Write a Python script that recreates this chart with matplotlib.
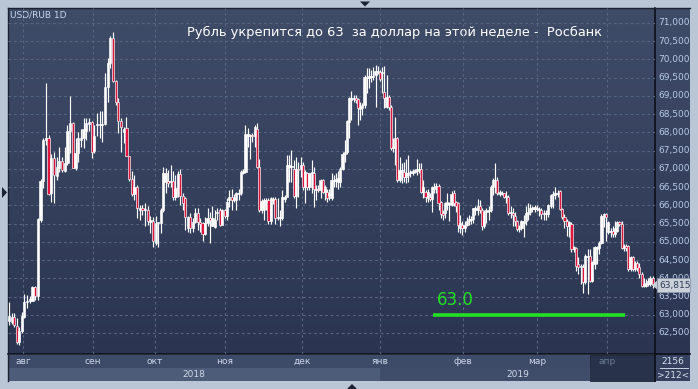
import numpy as np
import matplotlib.pyplot as plt
from matplotlib.patches import Rectangle, Polygon
from matplotlib.colors import LinearSegmentedColormap

# USD/RUB daily candles
opens = [62.83, 62.81, 62.95, 62.69, 62.26, 62.55, 62.95, 63.34, 63.39, 63.39,
         63.75, 63.51, 65.59, 66.68, 67.79, 67.84, 66.33, 67.29, 66.81, 67.03,
         67.22, 66.95, 67.15, 68.04, 68.25, 67.02, 67.43, 67.79, 67.84, 68.04,
         68.22, 68.28, 67.50, 68.20, 68.20, 68.20, 68.22, 69.25, 69.89, 70.58,
         69.41, 68.84, 68.32, 68.02, 68.11, 67.34, 66.71, 66.31, 66.51, 65.87,
         65.92, 65.86, 65.86, 65.55, 65.58, 64.98, 65.51, 65.51, 65.86, 66.65,
         66.68, 66.65, 66.68, 66.24, 66.47, 66.86, 66.26, 66.19, 65.37, 65.67,
         65.37, 65.55, 65.80, 65.55, 65.51, 65.22, 65.51, 65.65, 65.42, 65.40,
         65.78, 65.86, 65.47, 65.88, 65.70, 66.14, 66.23, 66.15, 66.15, 66.31,
         66.33, 66.90, 66.92, 67.90, 67.89, 67.93, 67.90, 68.10, 67.06, 65.87,
         65.88, 66.10, 66.14, 65.57, 66.15, 66.17, 65.64, 65.64, 65.66, 66.17,
         66.22, 67.05, 67.04, 67.01, 66.26, 67.01, 67.01, 67.10, 66.49, 66.88,
         66.51, 66.88, 66.90, 66.42, 66.46, 66.42, 66.69, 66.37, 66.37, 66.28,
         66.19, 66.67, 66.67, 66.65, 66.65, 67.01, 67.42, 67.45, 68.29, 68.89,
         68.92, 68.95, 68.91, 68.64, 68.66, 68.75, 69.48, 69.50, 69.53, 69.53,
         69.57, 69.66, 69.65, 69.62, 69.10, 68.70, 68.98, 68.70, 67.56, 67.56,
         67.84, 66.69, 66.92, 66.92, 66.78, 66.83, 66.88, 66.90, 66.92, 66.94,
         66.97, 67.00, 66.37, 66.37, 66.21, 66.24, 66.17, 66.46, 66.50, 66.53,
         66.08, 65.79, 65.78, 66.01, 66.04, 66.01, 66.33, 66.08, 66.06, 65.37,
         65.46, 65.37, 65.46, 65.56, 65.60, 65.62, 65.88, 65.88, 65.97, 65.88,
         65.42, 65.83, 65.84, 65.88, 66.51, 66.66, 66.70, 66.31, 66.31, 66.33,
         66.22, 66.24, 65.78, 65.78, 65.71, 65.58, 65.35, 65.37, 65.51, 65.56,
         65.76, 65.83, 65.90, 65.89, 65.90, 65.88, 65.87, 65.76, 65.76, 65.76,
         65.99, 66.27, 66.29, 66.31, 66.38, 65.90, 65.67, 65.58, 65.44, 65.50,
         64.80, 64.83, 64.39, 64.30, 64.30, 63.89, 64.57, 64.62, 63.93, 64.39,
         64.80, 64.84, 64.98, 65.67, 65.76, 65.26, 65.26, 65.30, 65.21, 65.30,
         65.53, 65.49, 64.84, 64.89, 64.89, 64.25, 64.57, 64.25, 64.43, 64.30,
         64.11, 63.80, 63.80, 63.84, 63.84, 64.00]
highs = [63.36, 63.04, 63.04, 62.90, 62.67, 63.08, 63.56, 63.54, 63.51, 63.79,
         63.79, 65.66, 66.72, 67.84, 69.35, 67.93, 67.40, 67.47, 67.33, 67.61,
         67.33, 67.61, 68.20, 69.01, 68.28, 67.84, 68.00, 68.08, 68.39, 68.39,
         68.39, 68.31, 68.20, 68.52, 68.59, 68.59, 69.62, 70.05, 70.63, 70.76,
         69.45, 68.94, 68.39, 68.16, 68.41, 67.35, 66.93, 66.83, 66.56, 66.01,
         66.01, 66.06, 65.97, 65.71, 65.67, 65.71, 65.55, 65.92, 67.06, 67.02,
         66.97, 67.11, 66.93, 66.83, 66.93, 66.99, 66.33, 66.24, 65.71, 65.78,
         65.65, 65.92, 65.92, 65.65, 65.55, 65.69, 65.92, 65.83, 65.97, 65.87,
         65.92, 65.92, 65.90, 65.90, 66.19, 66.42, 66.46, 66.30, 66.37, 66.46,
         66.97, 67.00, 68.20, 68.11, 67.95, 67.98, 68.20, 68.26, 67.28, 66.17,
         66.19, 66.19, 66.19, 66.22, 66.24, 66.22, 66.19, 65.87, 66.42, 66.28,
         67.37, 67.37, 67.51, 67.24, 67.33, 67.19, 67.33, 67.19, 66.97, 66.92,
         66.90, 67.24, 67.06, 66.55, 66.55, 66.73, 66.73, 66.55, 66.46, 66.46,
         66.88, 66.83, 66.88, 66.95, 67.06, 67.47, 67.79, 68.34, 68.98, 69.13,
         69.02, 69.02, 68.95, 68.84, 68.80, 69.57, 69.76, 69.77, 69.71, 69.80,
         69.85, 69.82, 69.71, 69.80, 69.83, 69.57, 69.02, 68.75, 67.84, 68.43,
         67.88, 67.33, 67.15, 67.19, 67.28, 67.38, 66.97, 67.01, 67.01, 67.28,
         67.17, 67.15, 66.69, 66.42, 66.46, 66.33, 66.53, 66.60, 66.60, 66.59,
         66.12, 65.88, 66.10, 66.33, 66.10, 66.38, 66.42, 66.12, 66.10, 65.74,
         65.56, 65.56, 65.69, 65.74, 65.70, 65.92, 65.97, 66.17, 66.15, 65.92,
         65.88, 65.92, 65.97, 66.56, 66.74, 67.16, 66.79, 66.41, 66.40, 66.35,
         66.38, 66.29, 65.97, 65.92, 65.83, 65.60, 65.46, 65.60, 65.74, 65.97,
         66.06, 66.04, 65.99, 66.01, 66.00, 65.96, 65.94, 65.87, 65.87, 66.03,
         66.31, 66.38, 66.49, 66.42, 66.42, 65.94, 65.76, 65.62, 65.58, 65.53,
         64.89, 64.86, 64.57, 64.39, 64.39, 64.66, 64.80, 64.80, 64.48, 64.89,
         64.89, 65.03, 65.76, 65.80, 65.80, 65.58, 65.39, 65.44, 65.58, 65.58,
         65.58, 65.58, 64.94, 64.94, 64.92, 64.61, 64.61, 64.48, 64.48, 64.43,
         64.16, 64.02, 63.98, 64.02, 64.07, 64.07]
lows = [62.72, 62.75, 62.67, 62.19, 62.16, 62.49, 62.90, 63.18, 63.31, 63.39,
        63.40, 63.40, 65.53, 66.48, 67.65, 66.28, 66.10, 66.07, 66.70, 66.92,
        66.92, 66.92, 67.10, 67.43, 67.02, 66.97, 67.20, 67.61, 67.56, 67.79,
        68.05, 67.31, 67.43, 67.90, 67.84, 67.75, 68.20, 68.84, 69.76, 69.37,
        68.75, 67.98, 67.47, 67.70, 67.34, 66.68, 66.26, 66.15, 65.65, 65.60,
        65.74, 65.42, 65.46, 65.23, 64.85, 64.91, 64.87, 65.23, 65.83, 66.33,
        66.51, 66.51, 66.15, 66.15, 66.24, 66.01, 65.87, 65.33, 65.28, 65.23,
        65.28, 65.51, 65.33, 65.28, 65.01, 65.19, 65.42, 64.96, 65.42, 65.37,
        65.60, 65.42, 65.45, 65.64, 65.60, 65.95, 65.87, 66.08, 65.87, 66.15,
        66.28, 66.85, 66.88, 67.61, 67.28, 67.75, 67.61, 67.02, 65.82, 65.79,
        65.61, 65.88, 65.50, 65.48, 66.03, 65.50, 65.60, 65.43, 65.60, 66.10,
        66.40, 66.65, 66.65, 66.19, 65.92, 66.24, 66.77, 66.42, 66.06, 66.42,
        66.42, 66.33, 65.95, 66.15, 66.37, 66.19, 66.35, 66.14, 66.10, 66.14,
        66.14, 66.51, 66.51, 66.46, 66.49, 66.97, 67.19, 67.42, 67.84, 68.34,
        68.84, 68.80, 68.20, 68.34, 68.48, 68.66, 69.07, 69.21, 69.39, 69.44,
        68.70, 69.60, 69.41, 69.07, 68.68, 68.66, 68.61, 67.52, 67.47, 67.10,
        66.65, 66.65, 66.60, 66.65, 66.60, 66.65, 66.78, 66.83, 66.88, 66.83,
        66.88, 66.35, 66.19, 66.10, 66.10, 66.12, 65.83, 66.33, 66.33, 65.88,
        65.65, 65.60, 65.65, 65.88, 65.56, 65.97, 65.97, 65.83, 65.28, 65.24,
        65.19, 65.28, 65.42, 65.46, 65.49, 65.51, 65.74, 65.74, 65.78, 65.33,
        65.38, 65.51, 65.60, 65.83, 66.29, 66.33, 66.29, 66.26, 66.28, 66.20,
        66.06, 65.74, 65.65, 65.42, 65.42, 65.31, 65.28, 65.33, 65.14, 65.46,
        65.60, 65.74, 65.83, 65.83, 65.85, 65.71, 65.62, 65.60, 65.60, 65.67,
        65.94, 65.94, 66.17, 66.22, 65.87, 65.62, 65.39, 65.17, 65.12, 64.71,
        64.71, 64.20, 64.11, 63.84, 63.61, 63.84, 63.57, 63.91, 63.89, 64.25,
        64.39, 64.66, 64.94, 65.40, 65.03, 65.21, 65.12, 65.12, 65.12, 65.26,
        65.44, 64.80, 64.75, 64.75, 64.21, 64.21, 64.20, 64.21, 64.21, 64.02,
        63.75, 63.75, 63.75, 63.80, 63.80, 63.73]
closes = [62.96, 62.95, 62.72, 62.26, 62.55, 62.96, 63.36, 63.39, 63.40, 63.77,
          63.51, 65.62, 66.68, 67.79, 67.84, 66.30, 67.29, 66.83, 67.06, 67.22,
          66.97, 67.17, 68.05, 68.25, 67.03, 67.43, 67.84, 67.84, 68.08, 68.25,
          68.28, 67.47, 67.90, 68.22, 68.22, 68.22, 69.25, 69.89, 70.58, 69.41,
          68.84, 68.30, 68.16, 68.09, 67.34, 66.71, 66.31, 66.51, 65.92, 65.92,
          65.86, 65.87, 65.58, 65.60, 65.01, 65.51, 65.52, 65.86, 66.88, 66.88,
          66.62, 66.68, 66.24, 66.47, 66.86, 66.26, 66.06, 65.69, 65.69, 65.37,
          65.55, 65.80, 65.55, 65.49, 65.22, 65.51, 65.65, 65.60, 65.65, 65.60,
          65.83, 65.46, 65.88, 65.70, 66.10, 66.23, 66.14, 66.20, 66.33, 66.33,
          66.92, 66.92, 67.95, 67.95, 67.93, 67.90, 68.15, 67.06, 65.87, 66.12,
          66.14, 66.14, 65.57, 66.19, 66.17, 65.64, 65.69, 65.69, 66.22, 66.22,
          67.10, 67.10, 67.06, 66.26, 67.01, 66.97, 67.10, 66.51, 66.92, 66.51,
          66.88, 66.90, 66.46, 66.46, 66.42, 66.69, 66.37, 66.51, 66.21, 66.33,
          66.69, 66.69, 66.72, 66.74, 67.01, 67.42, 67.47, 68.31, 68.93, 68.93,
          68.95, 68.89, 68.66, 68.70, 68.75, 69.53, 69.52, 69.55, 69.55, 69.55,
          69.68, 69.69, 69.46, 69.65, 68.95, 68.98, 68.70, 67.56, 67.58, 67.84,
          66.69, 66.97, 66.97, 66.78, 66.88, 66.88, 66.92, 66.94, 66.97, 66.99,
          67.00, 66.37, 66.51, 66.24, 66.37, 66.17, 66.51, 66.51, 66.53, 66.06,
          65.77, 65.74, 66.06, 66.08, 66.06, 66.31, 66.06, 65.99, 65.46, 65.51,
          65.37, 65.46, 65.56, 65.62, 65.62, 65.92, 65.92, 65.97, 65.88, 65.42,
          65.83, 65.88, 65.88, 66.51, 66.70, 66.70, 66.33, 66.36, 66.35, 66.24,
          66.24, 65.78, 65.80, 65.74, 65.56, 65.35, 65.39, 65.56, 65.56, 65.78,
          65.83, 65.92, 65.92, 65.95, 65.93, 65.90, 65.76, 65.80, 65.80, 66.01,
          66.29, 66.29, 66.35, 66.35, 65.90, 65.67, 65.58, 65.44, 65.53, 64.80,
          64.85, 64.34, 64.30, 64.34, 63.89, 64.61, 64.62, 63.93, 64.44, 64.85,
          64.85, 64.98, 65.71, 65.76, 65.67, 65.53, 65.30, 65.21, 65.39, 65.53,
          65.49, 64.84, 64.89, 64.83, 64.25, 64.57, 64.25, 64.43, 64.27, 64.11,
          63.80, 63.84, 63.86, 63.93, 64.00, 63.815]

month_labels = ["авг", "сен", "окт", "ноя", "дек", "янв", "фев", "мар", "апр"]
month_start_bar = [5.5, 31.5, 54.7, 83.1, 116.6, 152.0, 190.3, 224.1, 254.4]
year_labels = ["2018", "2019"]
price_ticks = np.arange(62.5, 71.01, 0.5)
target = 63.0
last_price = 63.815
title = "Рубль укрепится до 63  за доллар на этой неделе -  Росбанк"

W, H = 698, 389
fig = plt.figure(figsize=(W / 100, H / 100), dpi=100)
fig.patch.set_facecolor('#bac6d5')

# background layer in pixel coordinates
bg = fig.add_axes([0, 0, 1, 1])
bg.set_xlim(0, W)
bg.set_ylim(H, 0)
bg.axis('off')
grad = np.linspace(0, 1, 256).reshape(-1, 1)
cmap = LinearSegmentedColormap.from_list('panel', ['#3f4c68', '#2b3552'])
bg.imshow(grad, extent=(8, 690, 354, 8), cmap=cmap, aspect='auto', zorder=0)

# bottom date strip
bg.add_patch(Rectangle((8, 355), 647, 13, fc='#3d4a68', ec='none'))
bg.add_patch(Rectangle((8, 368), 372, 13, fc='#4d5c79', ec='none'))
bg.add_patch(Rectangle((380, 368), 210, 13, fc='#3f4d6b', ec='none'))
bg.add_patch(Rectangle((590, 355), 65, 26, fc='#28324b', ec='#1e2638', lw=0.6))
bg.add_patch(Rectangle((655, 354), 35, 27, fc='#35415e', ec='none'))
bg.plot([8, 690], [354, 354], color='#0b0f18', lw=1.2)
bg.plot([655, 655], [8, 381], color='#0b0f18', lw=1.2)
bg.plot([8, 8], [8, 381], color='#1a2130', lw=1.0)
bg.plot([8, 690], [8, 8], color='#1a2130', lw=1.0)
bg.plot([660, 688], [367.5, 367.5], color='#c8d3e4', lw=0.7)
bg.text(673, 361, "2156", color='#d6dfec', fontsize=6.5, ha='center', va='center')
bg.text(673, 375, ">212<", color='#d6dfec', fontsize=6.5, ha='center', va='center')

# small frame arrows
tri = dict(fc='#1b2232', ec='none')
bg.add_patch(Polygon([[360, 1.5], [370, 1.5], [365, 6.5]], **tri))
bg.add_patch(Polygon([[2, 187], [2, 198], [7, 192.5]], **tri))
bg.add_patch(Polygon([[347, 389], [357, 389], [352, 384]], **tri))

year_spans = [(8, 380), (380, 655)]
for lab, (a, b) in zip(year_labels, year_spans):
    bg.text((a + b) / 2, 374.5, lab, color='#d0d9e7', fontsize=6.5, ha='center', va='center')

bg.text(10, 15, "USD/RUB 1D", color='#c9d6ec', fontsize=6.5, ha='left', va='center')
bg.text(187, 32, title, color='white', fontsize=9.4, ha='left', va='center')

# price chart: x in chart pixels, calibrated by the month gridlines
ax = fig.add_axes([8 / W, (H - 354) / H, 647 / W, 346 / H])
ax.patch.set_alpha(0)
for s in ax.spines.values():
    s.set_visible(False)
ax.set_xticks([])
ax.set_yticks([])
ax.set_xlim(8, 655)
ax.set_ylim(61.924, 71.411)

n = len(closes)
month_px = [23, 93, 155, 225, 302, 380, 463, 537, 607]
anchor_bar = [0] + month_start_bar + [n - 1]
anchor_px = [9.3] + month_px + [652.7]
xs = np.interp(np.arange(n), anchor_bar, anchor_px)

for v in price_ticks:
    ax.axhline(v, color='#56647f', lw=0.8, ls=(0, (2.5, 2.5)), zorder=1)
for x in month_px:
    ax.axvline(x, color='#56647f', lw=0.8, ls=(0, (2.5, 2.5)), zorder=1)

for lab, x in zip(month_labels, month_px):
    col = '#6e7c96' if lab == "апр" else '#ccd7e8'
    bg.text(x, 361.5, lab, color=col, fontsize=6.5, ha='center', va='center')

o = np.array(opens)
c = np.array(closes)
ax.vlines(xs, lows, highs, color='white', lw=0.85, zorder=3)
up = c >= o
bottoms = np.minimum(o, c)
heights = np.maximum(np.abs(c - o), 0.03)
ax.bar(xs, heights, width=2.2, bottom=bottoms, color=np.where(up, 'white', '#e0143c'),
       edgecolor='white', linewidth=0.45, zorder=4)

# target line
ax.hlines(target, 433, 625, color='#22e022', lw=2.6, zorder=5)
ax.text(437, 63.27, "63.0", color='#22e022', fontsize=12, ha='left', va='baseline', zorder=5)

# price axis labels, the last-price tag sits over the 64,000 label as in the original
for v in price_ticks:
    ax.text(658, v, f"{v:.3f}".replace('.', ','), color='#b7cae6', fontsize=6.5,
            ha='left', va='center', clip_on=False)
ax.add_patch(Rectangle((657, last_price - 0.19), 33, 0.38, fc='#c9d0d9', ec='#8d99ab',
                       lw=0.6, clip_on=False, zorder=6))
ax.add_patch(Polygon([[652, last_price], [657, last_price + 0.12], [657, last_price - 0.12]],
                     fc='#c9d0d9', ec='none', clip_on=False, zorder=6))
ax.text(659, last_price, f"{last_price:.3f}".replace('.', ','), color='#2b3a55', fontsize=6.5,
        ha='left', va='center', clip_on=False, zorder=7)

fig.savefig('out.png', dpi=100, facecolor=fig.get_facecolor())
